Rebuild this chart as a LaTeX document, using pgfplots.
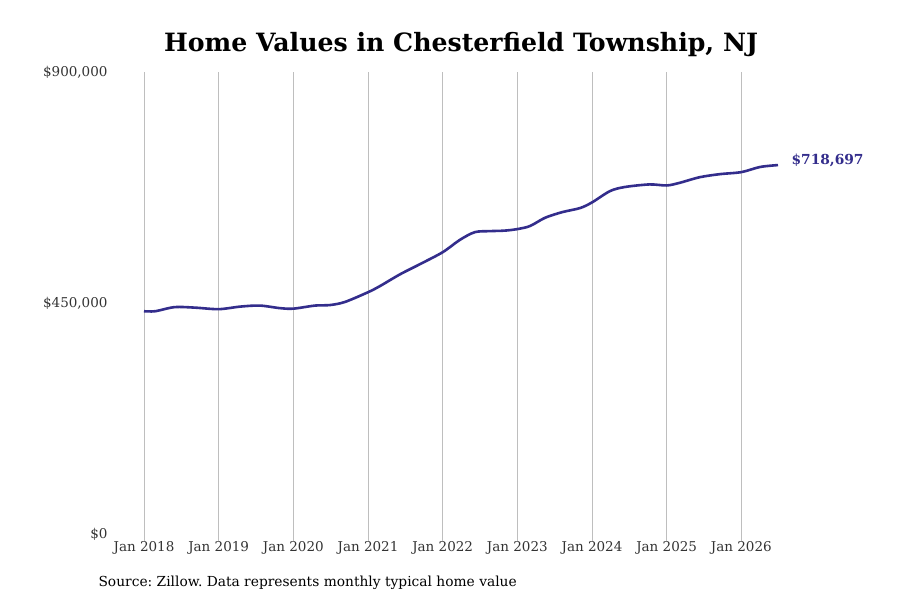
\documentclass[border=0pt]{standalone}
\usepackage{pgfplots}
\pgfplotsset{compat=1.18}
\usepackage{fontspec}
\setmainfont{DejaVu Serif}
\definecolor{navy}{RGB}{51,45,140}
\definecolor{gridc}{RGB}{190,190,190}
\definecolor{tickc}{RGB}{51,51,51}
\frenchspacing
\begin{document}
\begin{tikzpicture}
\useasboundingbox (0pt,0pt) rectangle (900pt,600pt);
\fill[white] (0pt,0pt) rectangle (900pt,600pt);
\node[font=\fontsize{25.2}{30}\selectfont\bfseries] at (461pt,555pt) {Home Values in Chesterfield Township, NJ};
\node[anchor=west,font=\fontsize{13.8}{16}\selectfont] at (95pt,17pt) {Source: Zillow. Data represents monthly typical home value};
\begin{axis}[
  at={(144pt,66pt)}, anchor=south west,
  scale only axis, width=634pt, height=462pt,
  xmin=2018, xmax=2026.49, ymin=0, ymax=900000,
  axis x line*=bottom, axis y line*=left,
  axis line style={draw=none},
  clip=false,
  scaled y ticks=false,
  xtick={2018,...,2026},
  xticklabels={Jan 2018,Jan 2019,Jan 2020,Jan 2021,Jan 2022,Jan 2023,Jan 2024,Jan 2025,Jan 2026},
  ytick={0,450000,900000},
  yticklabels={\$0,\$450{,}000,\$900{,}000},
  ticklabel style={font=\fontsize{13.5}{16}\selectfont, text=tickc},
  yticklabel style={anchor=east, xshift=-26pt},
  xticklabel style={yshift=3pt},
  tick align=outside,
  xtick style={gridc, line width=0.8pt},
  ytick style={draw=none},
  major tick length=7pt,
  xmajorgrids, grid style={gridc, line width=0.8pt},
]
\addplot[navy, line width=2.6pt, smooth, tension=0.5] coordinates {
(2018.00,434000) (2018.15,434000) (2018.41,442000) (2018.68,441000)
(2019.00,438000) (2019.29,443000) (2019.55,445000) (2019.82,440000)
(2020.00,439000) (2020.29,445000) (2020.49,446000) (2020.69,452000)
(2021.00,471000) (2021.16,483000) (2021.43,506000) (2021.70,526000)
(2022.00,549000) (2022.23,573000) (2022.43,588000) (2022.63,590000)
(2022.83,591000) (2023.00,594000) (2023.17,600000) (2023.37,616000)
(2023.60,627000) (2023.84,635000) (2024.00,646000) (2024.24,668000)
(2024.44,676000) (2024.77,681000) (2025.00,679000) (2025.17,684000)
(2025.44,695000) (2025.71,701000) (2026.00,705000) (2026.25,715000)
(2026.49,718697)
};
\node[anchor=west, text=navy, font=\fontsize{13.8}{16}\selectfont\bfseries, xshift=10pt, yshift=5pt] at (axis cs:2026.49,718697) {\$718,697};
\end{axis}
\end{tikzpicture}
\end{document}
